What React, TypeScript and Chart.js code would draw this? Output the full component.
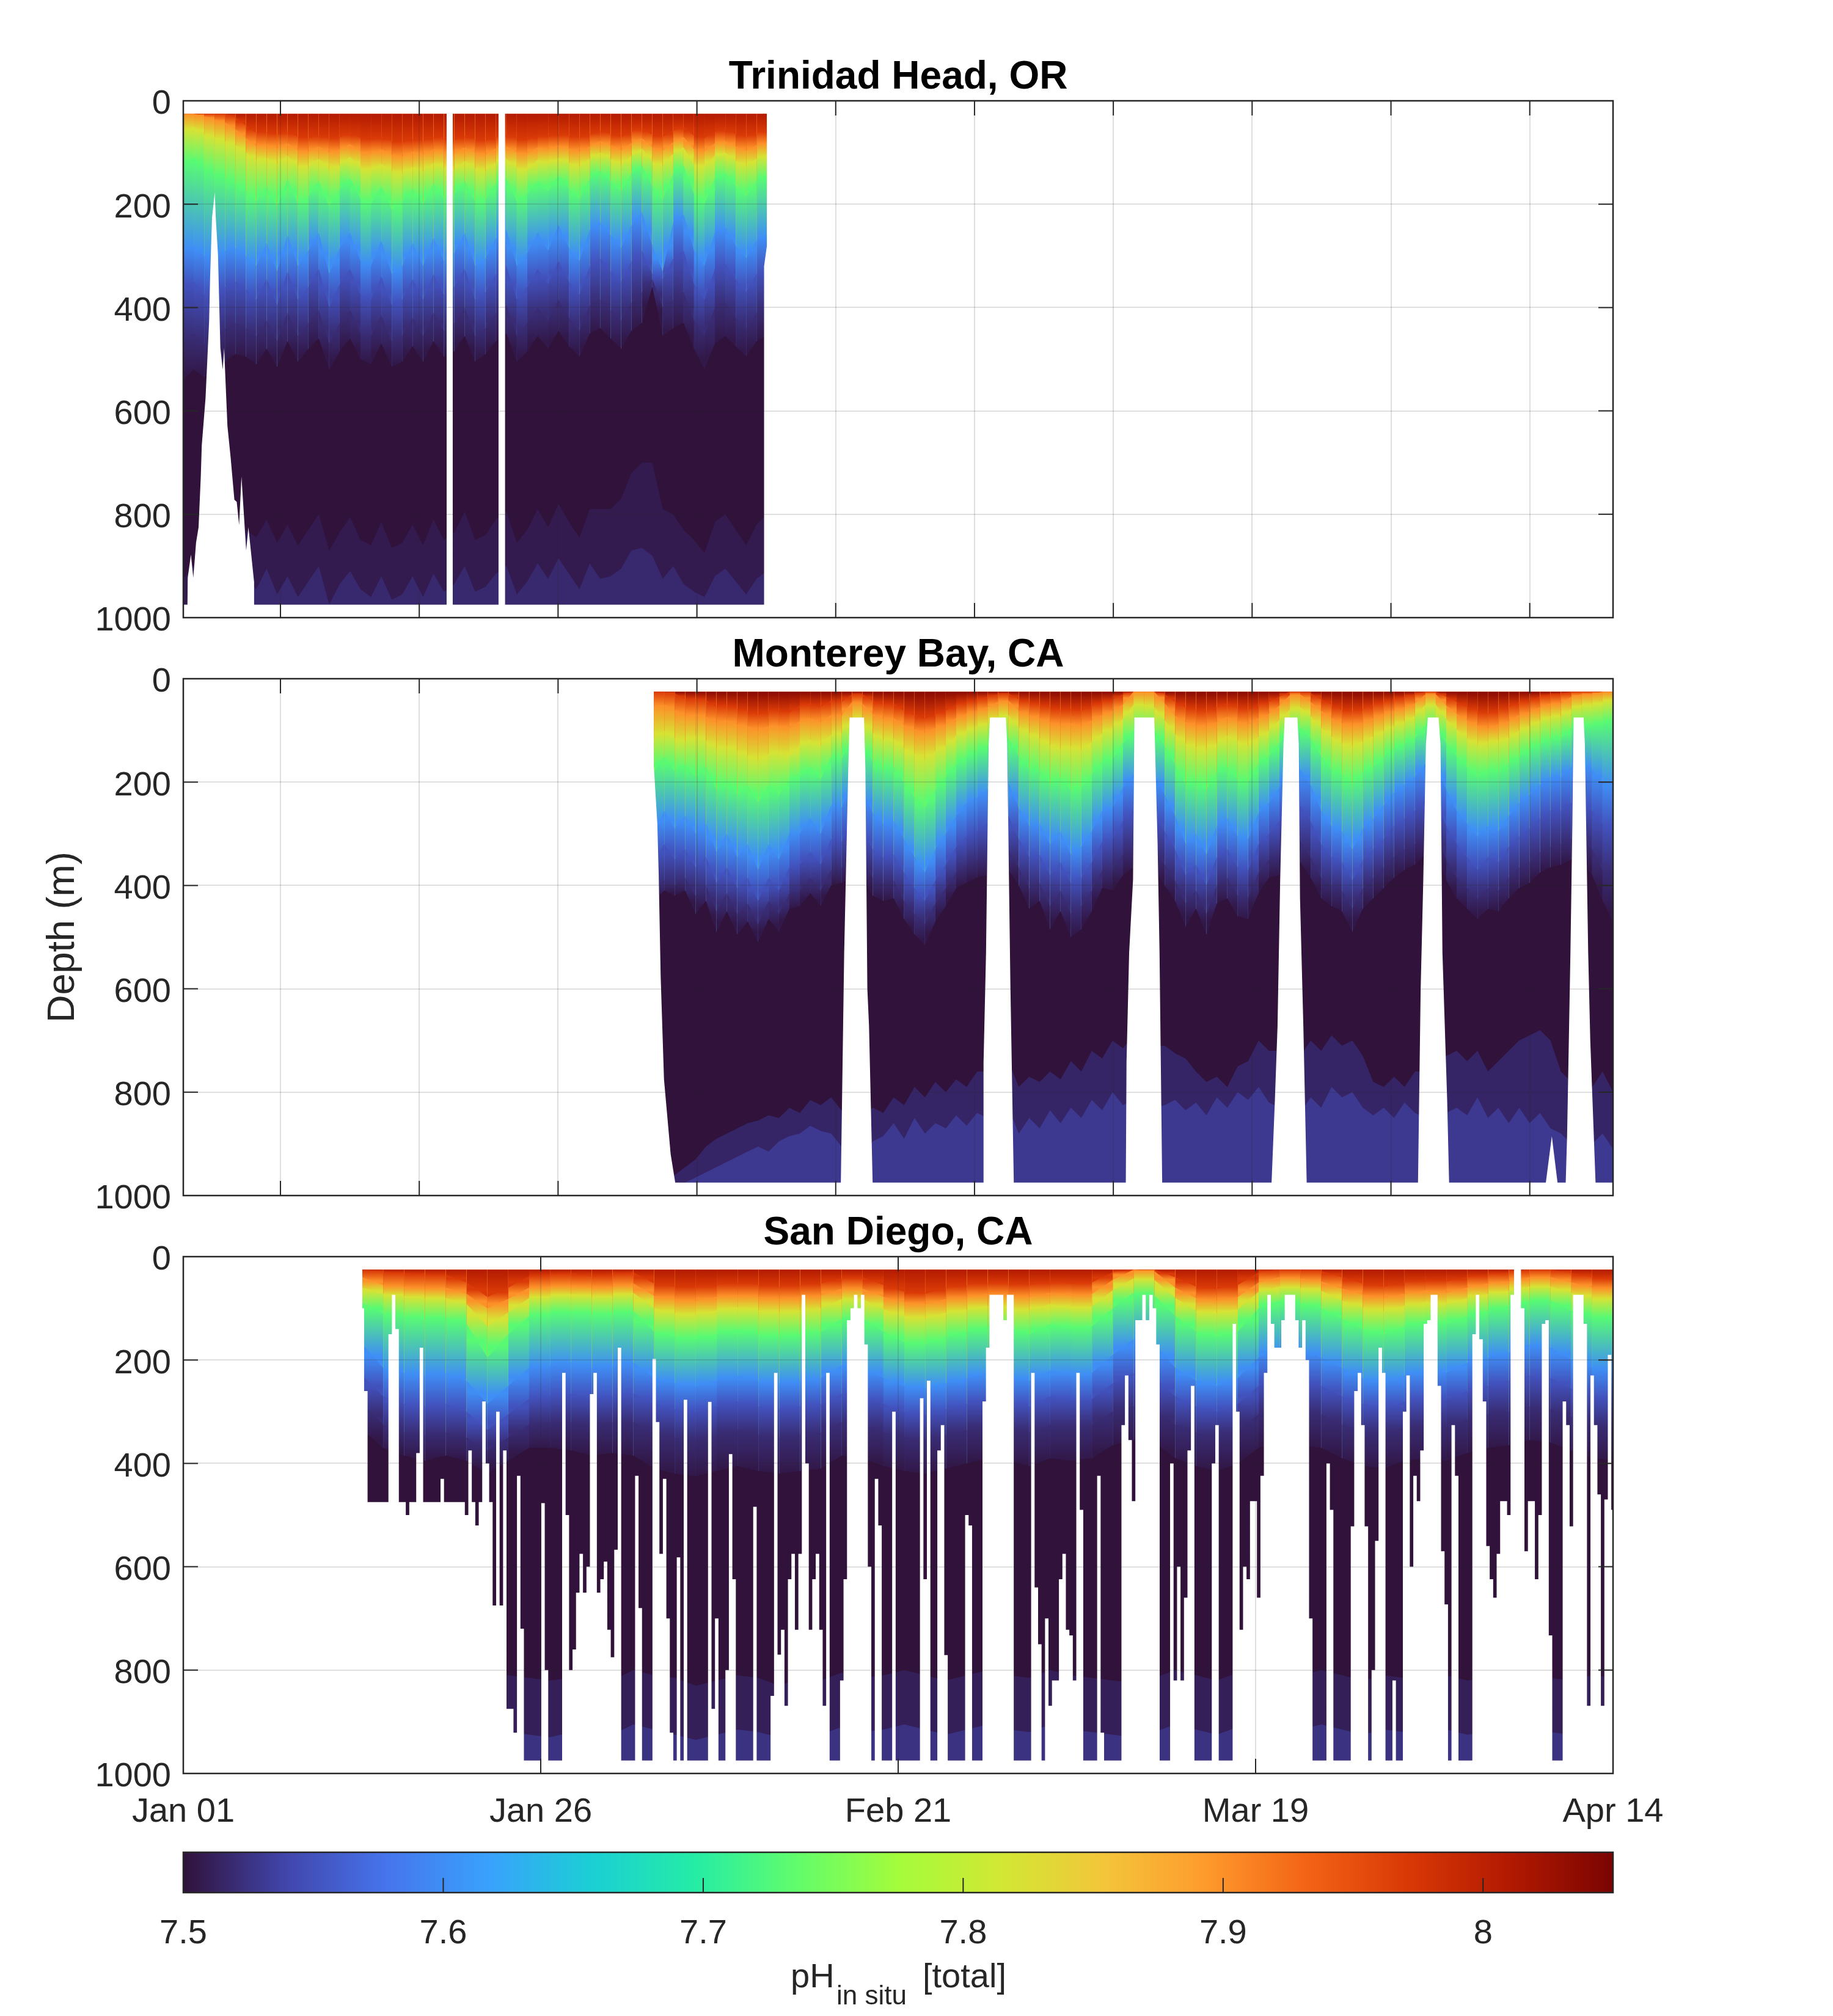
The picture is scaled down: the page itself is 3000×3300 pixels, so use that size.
import React, { useEffect, useRef } from "react";
import { Chart, registerables } from "chart.js";

Chart.register(...registerables);

const FONT = "Liberation Sans";
const INK = "#262626";

// x axis, days since Jan 01
const xTickDays = [0, 25.75, 51.5, 77.25, 103];
const xTickLabels = ["Jan 01", "Jan 26", "Feb 21", "Mar 19", "Apr 14"];
const gridDays = [7, 17, 27, 37, 47, 57, 67, 77, 87, 97];
const depthTicks = [0, 200, 400, 600, 800, 1000];

// colour bar
const cbarTicks = [7.5, 7.6, 7.7, 7.8, 7.9, 8];
const cbarLabels = ["7.5", "7.6", "7.7", "7.8", "7.9", "8"];
const turboStops = ["#30123b", "#4145ab", "#4675ed", "#39a2fc", "#1bcfd4", "#24eca6", "#61fc6c", "#a4fc3b", "#d1e834", "#f3c63a", "#fe9b2d", "#f36315", "#d93806", "#b11901", "#7a0402"];

// pH of each isoline, shallow to deep
const isolinePh = [7.97, 7.9, 7.82, 7.73, 7.6, 7.55, 7.52, 7.505];

// ---- Trinidad Head: depth of each isoline, day 0 to 42
const trDepths = [
  [25,25,25,25,25,32,48,62,60,66, 58,70,72,66,74,70,62,72,76,70, 78,80,74,78,70,72,76,68,74,78, 70,66,74,76,68,70,64,68,72,66, 58,64,70,60,52,66,70,58,50,68, 72,60,56,64,70,62,58],
  [25,25,30,36,42,55,72,88,84,92, 82,96,98,88,100,94,84,98,102,94, 104,108,98,104,94,98,102,90,100,104, 92,88,100,102,90,94,86,92,98,88, 78,86,96,82,72,90,96,80,70,94, 98,82,78,88,96,86,80],
  [60,50,65,70,78,85,100,115,110,122, 106,126,128,112,132,124,108,130,135,122, 136,140,128,136,120,128,134,116,130,136, 118,112,130,134,114,122,110,120,128,112, 100,112,124,106,92,118,126,102,90,124, 128,106,100,116,126,112,104],
  [125,110,130,140,150,160,175,195,165,205, 150,200,185,155,205,170,150,190,200,165, 210,195,170,200,160,190,180,155,195,190, 160,150,195,180,155,175,145,170,190,150, 135,155,175,140,125,165,190,140,125,180, 200,150,140,165,185,155,145],
  [290,280,300,300,290,285,300,320,275,330, 260,320,290,255,335,285,255,310,320,270, 335,320,275,320,265,310,295,255,320,305, 265,250,320,295,255,290,240,285,310,250, 235,260,285,240,215,280,330,235,220,290, 320,255,245,280,305,270,260],
  [360,350,375,370,360,350,365,385,345,395, 330,385,360,325,400,355,325,375,385,340, 395,385,345,385,335,375,360,325,385,370, 335,320,385,360,325,355,310,350,375,320, 305,330,350,310,290,335,345,305,290,355, 385,325,315,345,370,335,325],
  [465,450,470,455,440,430,440,455,425,465, 410,455,430,405,470,430,405,450,455,415, 465,455,420,455,410,445,430,400,455,440, 410,395,455,430,400,425,385,420,445,395, 385,405,425,390,370,345,400,385,370,425, 455,400,390,420,440,410,400],
  [540,520,535,520,505,490,495,510,480,515, 465,505,480,460,520,485,460,500,510,470, 515,505,475,505,465,495,485,455,505,490, 465,450,505,485,455,480,445,475,495,450, 440,460,480,445,430,360,455,440,430,480, 520,470,455,475,495,465,455],
];
const trDeep = [
  [925,900,880,860,840,835,830,845,810,855, 820,860,830,800,870,835,805,850,860,815, 865,855,820,860,810,850,835,795,850,840, 810,795,855,830,790,825,780,815,845,790, 790,790,770,720,700,700,790,800,830,850, 875,815,800,830,860,820,800],
  [975,975,960,950,930,935,925,945,905,955, 920,960,930,900,975,935,910,945,960,920, 965,955,920,960,915,950,935,900,950,940, 915,900,955,930,895,925,885,915,945,895, 925,920,905,870,865,880,925,900,935,950, 960,920,905,930,955,925,910],
];
const trMaskDays = [-0.2,0,0.3,0.32,0.55,0.72,0.92,1.1,1.26,1.33,1.6,1.86,1.93,2.07,2.27,2.34,2.5,2.67,2.84,2.94,3.18,3.41,3.68,3.85,4.02,4.19,4.53,4.69,5.1,5.1,18.97,18.97,19.41,19.41,22.71,22.71,23.18,23.18,41.84,41.84,42.05,42.05,42.3];
const trMaskDepths = [975,975,975,923,878,923,855,825,727,667,576,426,343,226,177,226,298,478,520,478,629,690,772,776,821,727,870,825,931,975,975,0,0,975,975,0,0,975,975,320,279,0,0];

// ---- Monterey Bay: depth of each isoline, day 33.9 to 103
const mbDepths = [
  [25,25,28,40,38,42,55,50,58,62, 70,62,60,66,52,48,55,42,45,30, 30,42,50,48,62,70,78,68,62,50, 45,40,35,30,28,40,45,50,55,60, 58,62,52,45,40,30,25,25,25,30, 45,55,60,62,55,48,55,60,50,45, 35,25,25,28,40,50,60,62,58,50, 45,40,35,30,25,25,35,45,55,62, 68,60,55,45,42,35,30,30,25,25, 25,25,25],
  [55,50,60,72,68,74,85,80,88,92, 100,92,90,96,82,76,84,70,72,45, 48,68,78,76,90,98,105,95,88,76, 68,62,55,45,42,62,70,76,84,90, 86,92,80,70,62,50,25,25,25,48, 72,84,90,92,84,74,82,88,76,68, 52,32,30,45,62,76,86,90,85,76, 68,62,55,48,30,30,52,68,80,90, 96,88,82,70,65,55,48,48,35,30, 30,25,25],
  [115,100,115,120,110,120,135,130,140,148, 158,145,140,150,128,118,130,108,105,75, 80,105,118,115,135,145,155,140,130,110, 100,92,85,72,70,95,105,115,128,135, 130,138,122,105,95,78,50,50,55,80, 108,125,132,135,125,110,120,130,112,100, 80,60,55,72,95,112,125,130,122,112, 100,90,82,72,50,50,78,98,115,128, 122,120,115,100,92,80,72,72,58,50, 50,45,40],
  [180,150,180,165,190,170,215,195,225,205, 240,205,225,195,190,170,195,150,155,120, 125,160,175,170,200,230,250,215,190,165, 150,140,130,115,115,150,175,175,205,190, 215,210,185,160,155,125,100,95,100,130, 165,205,195,215,180,170,195,200,165,150, 125,100,95,115,150,175,185,205,180,170, 150,135,125,115,90,90,125,150,170,190, 175,180,165,150,135,125,115,115,95,90, 90,85,80],
  [300,255,290,265,300,280,335,300,345,320, 370,320,350,300,300,270,300,245,250,205, 215,260,280,275,310,345,375,330,300,265, 240,230,215,195,200,250,285,280,320,295, 340,325,295,255,250,210,185,175,185,225, 265,320,300,340,285,270,305,310,260,240, 210,180,175,205,255,285,295,330,290,270, 245,220,205,190,165,165,215,255,280,305, 285,295,265,240,225,205,190,190,170,165, 175,200,210],
  [355,320,350,330,365,345,395,365,405,385, 430,385,410,365,360,335,360,310,315,280, 290,330,345,340,375,405,430,390,360,325, 305,295,280,265,265,310,345,340,380,355, 395,385,355,315,310,275,255,245,255,295, 330,380,360,400,345,330,365,370,320,300, 275,250,245,275,320,345,355,390,350,330, 310,285,270,255,235,235,285,320,345,370, 345,355,325,305,290,270,255,255,240,240, 255,280,290],
  [405,390,400,385,420,400,450,415,455,435, 475,430,455,415,410,385,410,370,365,350, 350,385,395,390,430,455,475,435,405,375, 360,350,345,330,330,365,405,395,440,410, 455,440,410,370,370,340,325,315,330,360, 390,435,410,455,400,385,420,425,375,350, 340,320,315,345,385,400,410,445,405,385, 365,345,330,320,300,300,350,385,405,425, 405,410,385,365,355,335,325,320,310,310, 330,370,380],
  [430,410,420,410,455,430,490,450,495,470, 510,465,490,445,440,415,440,400,395,385, 385,420,430,425,465,495,515,470,440,405, 395,385,380,365,370,400,445,430,485,450, 500,485,450,405,410,380,365,355,370,400, 430,480,445,495,435,425,460,465,415,385, 380,360,355,385,425,440,450,490,445,425, 405,385,370,360,340,340,390,425,445,465, 445,450,425,405,395,375,365,360,350,355, 380,430,470],
];
const mbDeep = [
  [975,975,960,945,930,905,890,880,870,860, 855,845,850,830,840,815,825,810,835,850, 850,830,840,810,825,790,810,780,800,775, 790,760,760,770,740,790,770,780,760,775, 740,760,720,735,700,715,690,700,710,710, 725,735,760,780,770,790,750,740,700,720, 720,710,730,700,720,690,710,700,730,780, 790,770,790,760,760,740,730,720,740,720, 760,740,720,700,690,680,700,760,780,770, 790,760,800],
  [975,975,975,975,965,955,945,935,925,915, 905,915,895,885,880,865,875,880,905,915, 925,895,885,860,890,850,880,860,870,845, 865,840,850,870,830,880,850,870,835,860, 830,850,815,835,800,825,815,820,830,825, 815,835,820,845,810,830,800,815,790,820, 830,820,840,810,830,790,810,800,830,845, 830,850,820,840,850,820,840,830,845,810, 850,830,860,830,860,840,870,880,900,890, 900,880,910],
];
const mbMaskDays = [33.7,33.9,34.15,34.25,34.39,34.63,35.11,35.44, 47.37,47.61,47.9,48,49.04,49.14,49.28,49.4,49.66, 57.64,57.65,57.83,58.02,58.11,59.26,59.35,59.59,59.83, 67.9,67.95,68.14,68.42,68.52,69.95,70.19,70.33,70.52, 78.4,78.64,78.83,79.02,79.26,79.35,80.26,80.36,80.45,80.69,80.93, 88.95,89.14,89.33,89.52,89.66,90.43,90.57,90.71,91.05,91.19, 98.16,98.59,99,99.59,99.69,99.93,100.07,100.16,100.88,100.97,101.21,101.36,101.74,103];
const mbMaskDepths = [170,170,280,380,575,775,920,975, 975,530,180,75,75,175,600,672,975, 975,743,530,126,75,75,126,601,975, 975,743,530,389,75,75,320,530,975, 975,815,672,389,126,75,75,126,425,672,975, 975,601,389,126,75,75,126,530,815,975, 975,885,975,975,885,530,280,75,75,126,530,700,975,975];

// ---- San Diego: depth of each isoline, day 12.9 to 103
const sdDepths = [
  [25,30,32,35,35,50,78,60,38,35, 32,38,35,30,52,58,60,55,50,55, 58,55,52,42,40,55,68,72,60,55, 50,52,55,48,52,50,30,25,25,40, 58,62,55,30,25,25,28,40,52,58, 50,45,48,40,35,30,25,25,32,40, 45],
  [40,55,58,62,60,72,100,82,60,58, 55,60,58,52,76,82,85,78,74,78, 82,78,75,62,62,78,88,92,82,78, 72,75,78,70,75,72,45,25,28,60, 80,85,78,50,40,42,48,62,74,80, 72,65,70,60,52,48,40,40,50,60, 62],
  [60,72,76,80,80,92,135,108,80,76, 72,78,76,70,100,110,112,104,98,104, 108,104,100,82,82,102,115,120,108,102, 95,100,104,92,100,96,65,42,45,80, 104,110,102,68,58,60,66,85,98,105, 95,88,92,80,72,66,58,58,70,80, 82],
  [90,110,115,120,118,130,195,150,115,110, 105,112,110,105,145,155,160,150,140,150, 155,150,145,120,120,145,165,170,155,145, 135,140,150,130,140,135,100,70,75,115, 145,155,145,100,85,90,100,120,140,150, 135,125,130,115,105,95,85,85,105,115, 120],
  [170,215,225,230,225,240,285,250,215,210, 205,215,210,205,235,245,250,240,230,240, 245,240,235,210,215,235,250,255,245,235, 225,230,240,220,230,225,190,160,170,215, 240,250,235,195,175,180,195,215,235,245, 230,220,225,205,195,185,170,175,200,215, 220],
  [230,270,285,290,285,300,335,305,275,270, 265,275,270,265,285,295,300,290,280,290, 295,290,285,265,270,285,300,305,295,285, 275,280,290,270,280,275,245,225,235,270, 290,300,285,250,235,240,250,270,285,295, 280,270,275,260,250,240,230,235,255,270, 275],
  [285,325,340,345,340,350,375,350,325,320, 320,325,320,320,340,350,355,345,335,345, 350,345,340,320,325,340,350,355,345,335, 325,330,340,325,330,325,300,290,295,325, 340,350,335,305,295,300,305,325,340,345, 330,325,330,315,305,300,290,295,310,325, 330],
  [335,370,385,395,385,395,420,395,370,370, 375,385,380,385,410,420,425,415,405,415, 420,415,410,385,390,405,415,420,410,400, 390,395,405,390,395,390,365,355,360,390, 405,415,400,370,360,365,370,390,405,410, 395,390,395,380,370,365,355,360,375,390, 395],
];
const sdDeep = [
  [800,800,800,800,800,800,800,810,815,820, 815,810,820,800,810,815,830,820,810,815, 830,815,820,805,815,810,800,810,820,810, 800,810,815,800,810,815,820,825,815,800, 810,820,805,800,815,810,800,810,820,810, 815,800,810,820,815,810,800,815,820,810, 815],
  [930,930,930,930,925,920,915,920,925,930, 920,915,925,905,915,925,935,925,915,920, 930,920,925,910,920,915,905,915,925,915, 905,915,920,905,915,920,925,930,920,905, 915,925,910,905,920,915,905,915,925,915, 920,905,915,925,920,915,905,920,925,915, 920],
];
// deepest sampled depth of each profile, every quarter day or so
const sdBottom = [
  100,260,475,475,475,475,475,475,150,74,140,475,475,500,475,475,380,176,475,475,475,475,475,430,475,475,475,475,475,475,
  500,375,475,520,475,280,400,475,675,300,675,375,875,875,921,424,720,975,975,975,975,975,477,800,975,975,975,975,225,500,
  800,760,650,575,650,600,266,225,650,624,590,722,775,567,176,975,975,975,975,424,680,975,975,975,198,320,575,430,700,921,
  975,582,975,277,975,975,975,975,975,975,281,875,700,975,975,800,382,624,975,975,975,975,975,484,975,975,975,975,850,225,
  770,722,869,624,575,722,575,74,400,722,624,575,722,869,225,975,975,975,820,624,123,100,74,100,74,170,600,975,430,520,
  975,975,975,300,975,
  975,975,975,975,975,975,274,624,240,975,975,375,326,771,975,975,975,975,975,500,520,975,975,975,280,176,74,74,74,74,
  123,74,74,975,975,975,975,975,225,640,750,975,700,869,820,820,624,575,722,733,820,225,490,975,975,975,975,424,921,975,
  975,975,975,975,326,230,355,473,123,123,74,123,74,100,170,975,975,975,400,820,600,820,660,375,250,975,975,975,975,975,
  400,326,975,975,975,975,130,300,722,600,624,473,473,660,424,225,74,130,176,176,123,74,74,74,123,176,123,200,700,975,
  975,975,975,400,490,975,975,975,975,975,522,260,225,326,522,975,800,550,176,225,975,975,820,975,975,300,230,600,424,473,
  375,130,123,74,74,250,570,673,975,326,424,975,975,975,975,150,74,160,280,560,624,660,575,473,473,500,74,0,0,100,
  570,473,473,624,500,130,123,733,975,975,975,280,326,522,74,74,74,130,869,230,326,460,869,470,190,490,
];

// colour of a pH value on the turbo map running from 7.5 to 8.05
const phColor = (ph: number) => {
  const pos = Math.max(0, Math.min(1, (ph - 7.5) / 0.55)) * (turboStops.length - 1);
  const i = Math.min(Math.floor(pos), turboStops.length - 2);
  const rgb = (hex: string) => [1, 3, 5].map((o) => parseInt(hex.slice(o, o + 2), 16));
  const a = rgb(turboStops[i]);
  const b = rgb(turboStops[i + 1]);
  const c = a.map((v, n) => Math.round(v + (b[n] - v) * (pos - i)));
  return `rgb(${c[0]},${c[1]},${c[2]})`;
};

const spread = (values: number[], start: number, end: number) =>
  values.map((y, i) => ({ x: start + (i * (end - start)) / (values.length - 1), y }));

// one vertical gradient per time step, running from this isoline to the next one
const columnFill = (phTop: number, phBottom: number, upper: number[], lower: number[]) => (ctx: any) => {
  const { chart, p0DataIndex: i, p1DataIndex: j } = ctx;
  const y = chart.scales.y;
  const y0 = y.getPixelForValue((upper[i] + upper[j]) / 2);
  const y1 = y.getPixelForValue((lower[i] + lower[j]) / 2);
  const g = chart.ctx.createLinearGradient(0, y0, 0, Math.max(y1, y0 + 1));
  g.addColorStop(0, phColor(phTop));
  g.addColorStop(1, phColor(phBottom));
  return g;
};

const mark = (data: any[], backgroundColor: any, value: number, extra: any = {}) => ({
  data,
  backgroundColor,
  fill: { value },
  borderWidth: 0,
  pointRadius: 0,
  tension: 0,
  ...extra,
});

const panelFrame = {
  id: "panelFrame",
  afterDraw(chart: any) {
    const { ctx, chartArea, scales } = chart;
    const { left, right, top, bottom } = chartArea;
    ctx.save();
    ctx.strokeStyle = INK;
    ctx.lineWidth = 2;
    scales.x.ticks.forEach((t: any) => {
      if (t.value <= 0 || t.value >= 103) return;
      const px = scales.x.getPixelForValue(t.value);
      ctx.beginPath();
      ctx.moveTo(px, top);
      ctx.lineTo(px, top + 24);
      ctx.moveTo(px, bottom);
      ctx.lineTo(px, bottom - 24);
      ctx.stroke();
    });
    scales.y.ticks.forEach((t: any) => {
      if (t.value <= 0 || t.value >= 1000) return;
      const py = scales.y.getPixelForValue(t.value);
      ctx.beginPath();
      ctx.moveTo(left, py);
      ctx.lineTo(left + 24, py);
      ctx.moveTo(right, py);
      ctx.lineTo(right - 24, py);
      ctx.stroke();
    });
    ctx.lineWidth = 2.5;
    ctx.strokeRect(left, top, right - left, bottom - top);
    ctx.restore();
  },
};

type PanelProps = {
  title: string;
  canvasTop: number;
  start: number;
  end: number;
  topPh: number;
  deepPh: number[];
  depths: number[][];
  deep: number[][];
  mask: { x: number; y: number }[];
  stepMask?: boolean;
  xTicks: number[];
  xLabels?: string[];
  yTitle?: string;
};

const Panel = (p: PanelProps) => {
  const ref = useRef<HTMLCanvasElement>(null!);
  useEffect(() => {
    const surface = p.depths[0].map(() => 25);
    const lines = [surface, ...p.depths];
    const phs = [p.topPh, ...isolinePh];
    const graded = lines.slice(0, -1).map((d, i) =>
      mark(spread(d, p.start, p.end), phColor(phs[i]), 975, {
        segment: { backgroundColor: columnFill(phs[i], phs[i + 1], d, lines[i + 1]) },
      })
    );
    const dark = mark(spread(lines[lines.length - 1], p.start, p.end), phColor(7.5), 975);
    const deep = p.deep.map((d, i) => mark(spread(d, p.start, p.end), phColor(p.deepPh[i]), 975));
    const base = mark(spread(surface, p.start, p.end), phColor(7.9), 975);
    // the first dataset is drawn last, so deeper bands paint over shallower ones and the mask over all
    const whiteMask = mark(p.mask, "#ffffff", 1000, p.stepMask ? { stepped: "middle" } : {});
    const datasets = [whiteMask, ...deep.reverse(), dark, ...graded.reverse(), base];
    const chart = new Chart(ref.current, {
      type: "line",
      data: { datasets },
      plugins: [panelFrame],
      options: {
        animation: false,
        responsive: false,
        devicePixelRatio: 1,
        events: [],
        layout: { padding: { top: 26, right: 360, bottom: 0, left: 0 } },
        plugins: {
          legend: { display: false },
          tooltip: { enabled: false },
          title: {
            display: true,
            text: p.title,
            color: "#000000",
            fullSize: false,
            font: { family: FONT, size: 64, weight: "bold", lineHeight: 1.15 },
            padding: { top: 0, bottom: 0.4 },
          },
        },
        scales: {
          x: {
            type: "linear",
            min: 0,
            max: 103,
            afterBuildTicks: (s: any) => {
              s.ticks = p.xTicks.map((value) => ({ value }));
            },
            afterFit: (s: any) => {
              s.height = 100;
            },
            grid: { z: 1, color: "rgba(38,38,38,0.15)", lineWidth: 2, drawTicks: false },
            border: { display: false },
            ticks: {
              display: !!p.xLabels,
              autoSkip: false,
              maxRotation: 0,
              padding: 30,
              color: INK,
              font: { family: FONT, size: 56 },
              callback: (v: any) => (p.xLabels ? p.xLabels[p.xTicks.indexOf(v)] : ""),
            },
          },
          y: {
            type: "linear",
            reverse: true,
            min: 0,
            max: 1000,
            afterBuildTicks: (s: any) => {
              s.ticks = depthTicks.map((value) => ({ value }));
            },
            afterFit: (s: any) => {
              s.width = 300;
            },
            grid: { z: 1, color: "rgba(38,38,38,0.15)", lineWidth: 2, drawTicks: false },
            border: { display: false },
            title: {
              display: !!p.yTitle,
              text: p.yTitle,
              color: INK,
              font: { family: FONT, size: 63 },
              padding: { top: 66, bottom: 0 },
            },
            ticks: {
              padding: 20,
              labelOffset: 6,
              color: INK,
              font: { family: FONT, size: 56 },
              callback: (v: any) => String(v),
            },
          },
        },
      },
    } as any);
    return () => {
      chart.destroy();
    };
  }, []);
  return (
    <canvas
      ref={ref}
      width={3000}
      height={1046}
      style={{ position: "absolute", left: 0, top: p.canvasTop, display: "block" }}
    />
  );
};

const cbarFrame = {
  id: "cbarFrame",
  afterDraw(chart: any) {
    const { ctx, chartArea, scales } = chart;
    const { left, right, top, bottom } = chartArea;
    ctx.save();
    ctx.strokeStyle = INK;
    ctx.lineWidth = 2;
    cbarTicks.slice(1).forEach((v) => {
      const px = scales.x.getPixelForValue(v);
      ctx.beginPath();
      ctx.moveTo(px, bottom);
      ctx.lineTo(px, bottom - 24);
      ctx.stroke();
    });
    ctx.lineWidth = 2.5;
    ctx.strokeRect(left, top, right - left, bottom - top);
    // label with a subscript
    ctx.fillStyle = INK;
    ctx.textAlign = "left";
    ctx.textBaseline = "alphabetic";
    ctx.font = `56px "${FONT}"`;
    ctx.fillText("pH", 1294, 253);
    ctx.fillText("[total]", 1510, 253);
    ctx.font = `44px "${FONT}"`;
    ctx.fillText("in situ", 1369, 281);
    ctx.restore();
  },
};

const ColorBar = () => {
  const ref = useRef<HTMLCanvasElement>(null!);
  useEffect(() => {
    const chart = new Chart(ref.current, {
      type: "bar",
      data: {
        labels: ["pH"],
        datasets: [
          {
            data: [[7.5, 8.05]],
            barPercentage: 1,
            categoryPercentage: 1,
            borderWidth: 0,
            backgroundColor: (ctx: any) => {
              const { chart: c } = ctx;
              if (!c.chartArea) return phColor(7.5);
              const g = c.ctx.createLinearGradient(c.chartArea.left, 0, c.chartArea.right, 0);
              turboStops.forEach((col, i) => g.addColorStop(i / (turboStops.length - 1), col));
              return g;
            },
          },
        ],
      },
      plugins: [cbarFrame],
      options: {
        indexAxis: "y",
        animation: false,
        responsive: false,
        devicePixelRatio: 1,
        events: [],
        layout: { padding: { top: 32, right: 360, bottom: 0, left: 300 } },
        plugins: { legend: { display: false }, tooltip: { enabled: false } },
        scales: {
          y: { display: false },
          x: {
            type: "linear",
            min: 7.5,
            max: 8.05,
            afterBuildTicks: (s: any) => {
              s.ticks = cbarTicks.map((value) => ({ value }));
            },
            afterFit: (s: any) => {
              s.height = 202;
            },
            grid: { display: false },
            border: { display: false },
            ticks: {
              autoSkip: false,
              maxRotation: 0,
              padding: 26,
              color: INK,
              font: { family: FONT, size: 56 },
              callback: (v: any) => cbarLabels[cbarTicks.indexOf(v)],
            },
          },
        },
      },
    } as any);
    return () => {
      chart.destroy();
    };
  }, []);
  return <canvas ref={ref} width={3000} height={300} style={{ position: "absolute", left: 0, top: 3000, display: "block" }} />;
};

export default function App() {
  const trMask = trMaskDays.map((x, i) => ({ x, y: trMaskDepths[i] }));
  const mbMask = mbMaskDays.map((x, i) => ({ x, y: mbMaskDepths[i] }));
  const sdMask = [{ x: 12.6, y: 100 }, ...spread(sdBottom, 12.9, 103)];
  return (
    <div style={{ position: "absolute", left: 0, top: 0, width: 3000, height: 3300, background: "#fff" }}>
      <Panel title="Trinidad Head, OR" canvasTop={65} start={0} end={42.05} topPh={8.01} deepPh={[7.507, 7.518]} depths={trDepths} deep={trDeep} mask={trMask} xTicks={gridDays} />
      <Panel title="Monterey Bay, CA" canvasTop={1011} start={33.9} end={103} topPh={8.04} deepPh={[7.515, 7.53]} depths={mbDepths} deep={mbDeep} mask={mbMask} xTicks={gridDays} yTitle="Depth (m)" />
      <Panel title="San Diego, CA" canvasTop={1957} start={12.9} end={103} topPh={8.01} deepPh={[7.51, 7.525]} depths={sdDepths} deep={sdDeep} mask={sdMask} stepMask xTicks={xTickDays} xLabels={xTickLabels} />
      <ColorBar />
    </div>
  );
}
